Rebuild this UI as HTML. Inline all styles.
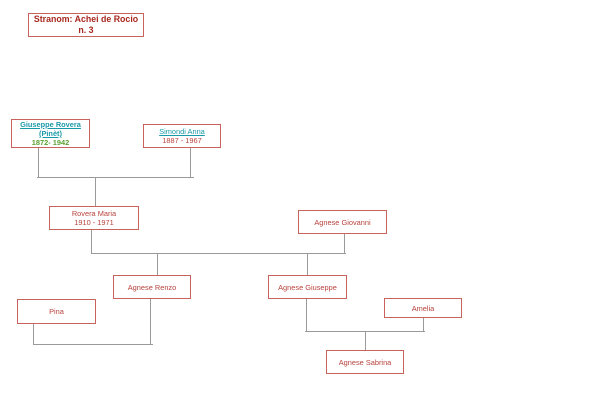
<!DOCTYPE html>
<html><head><meta charset="utf-8"><style>
body{margin:0;width:602px;height:400px;background:#fff;position:relative;overflow:hidden;font-family:"Liberation Sans",sans-serif}
.b{position:absolute;box-sizing:border-box;border:1px solid #c8625c;background:#fff;color:#b8423c;font-size:7.4px;display:flex;flex-direction:column;align-items:center;justify-content:center;text-align:center;line-height:9px}
.l{position:absolute;background:#9a9a9a}
</style></head><body>
<div class="b" style="left:28px;top:13px;width:116px;height:24px;font-size:8.8px;font-weight:bold;line-height:11px;color:#a8281f">Stranom: Achei de Rocio<br>n. 3</div>

<div class="l" style="left:38px;top:147px;width:1px;height:31px"></div>
<div class="l" style="left:190px;top:147px;width:1px;height:31px"></div>
<div class="l" style="left:37px;top:177px;width:157px;height:1px"></div>
<div class="l" style="left:95px;top:177px;width:1px;height:29px"></div>

<div class="l" style="left:91px;top:230px;width:1px;height:23px"></div>
<div class="l" style="left:344px;top:234px;width:1px;height:19px"></div>
<div class="l" style="left:91px;top:253px;width:255px;height:1px"></div>
<div class="l" style="left:157px;top:253px;width:1px;height:22px"></div>
<div class="l" style="left:307px;top:253px;width:1px;height:22px"></div>

<div class="l" style="left:33px;top:323px;width:1px;height:21px"></div>
<div class="l" style="left:150px;top:298px;width:1px;height:46px"></div>
<div class="l" style="left:33px;top:344px;width:120px;height:1px"></div>

<div class="l" style="left:306px;top:298px;width:1px;height:33px"></div>
<div class="l" style="left:423px;top:317px;width:1px;height:14px"></div>
<div class="l" style="left:305px;top:331px;width:120px;height:1px"></div>
<div class="l" style="left:365px;top:331px;width:1px;height:19px"></div>

<div class="b" style="left:11px;top:119px;width:79px;height:29px"><span style="color:#1a9aa8;text-decoration:underline;font-weight:bold">Giuseppe Rovera<br>(Pinèt)</span><span style="color:#5aa030;font-weight:bold">1872- 1942</span></div>
<div class="b" style="left:143px;top:124px;width:78px;height:24px"><span style="color:#1a9aa8;text-decoration:underline">Simondi Anna</span>1887 - 1967</div>
<div class="b" style="left:49px;top:206px;width:90px;height:24px">Rovera Maria<br>1910 - 1971</div>
<div class="b" style="left:298px;top:210px;width:89px;height:24px">Agnese Giovanni</div>
<div class="b" style="left:113px;top:275px;width:78px;height:24px">Agnese Renzo</div>
<div class="b" style="left:268px;top:275px;width:79px;height:24px">Agnese Giuseppe</div>
<div class="b" style="left:17px;top:299px;width:79px;height:25px">Pina</div>
<div class="b" style="left:384px;top:298px;width:78px;height:20px">Amelia</div>
<div class="b" style="left:326px;top:350px;width:78px;height:24px">Agnese Sabrina</div>
</body></html>
